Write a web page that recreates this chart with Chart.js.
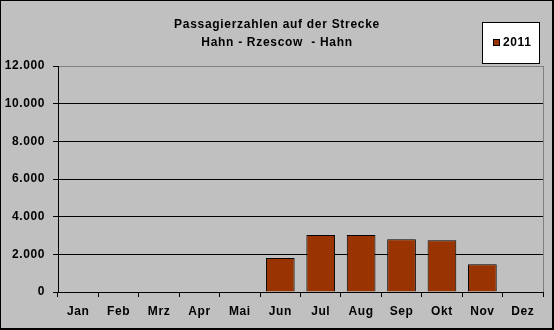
<!DOCTYPE html>
<html>
<head>
<meta charset="utf-8">
<script src="https://cdn.jsdelivr.net/npm/chart.js@4.4.1/dist/chart.umd.min.js"></script>
<style>
  html, body { margin: 0; padding: 0; background: #c0c0c0; }
  canvas { display: block; }
</style>
</head>
<body>
<canvas id="chart" width="554" height="330"></canvas>
<script>
// data
const months = ['Jan', 'Feb', 'Mrz', 'Apr', 'Mai', 'Jun', 'Jul', 'Aug', 'Sep', 'Okt', 'Nov', 'Dez'];
const passengers2011 = [null, null, null, null, null, 1800, 3030, 3030, 2800, 2750, 1480, null];
const seriesLabel = '2011';
const titleLines = ['Passagierzahlen auf der Strecke', 'Hahn - Rzescow  - Hahn'];
const yMax = 12000;
const yStep = 2000;

const barColor = '#993300';
const fontFamily = '"Liberation Sans", Arial, sans-serif';

// german thousands separator
function fmt(v) {
    return String(v).replace(/\B(?=(\d{3})+(?!\d))/g, '.');
}

// grey sheet, black frame with a heavier right/bottom edge
const framePlugin = {
    id: 'frame',
    beforeDraw(chart) {
        const ctx = chart.ctx;
        ctx.fillStyle = '#c0c0c0';
        ctx.fillRect(0, 0, chart.width, chart.height);
        // excel text is drawn a bit wider
        ctx.letterSpacing = '0.6px';
    },
    afterDraw(chart) {
        const ctx = chart.ctx;
        const w = chart.width, h = chart.height;
        ctx.save();
        ctx.fillStyle = '#000';
        ctx.fillRect(0, 0, w, 1);
        ctx.fillRect(0, 0, 1, h);
        ctx.fillRect(w - 2, 0, 2, h);
        ctx.fillRect(0, h - 2, w, 2);
        ctx.restore();
    }
};

// right edge of the plot area (grey like the top one)
const plotEdgePlugin = {
    id: 'plotEdge',
    beforeDatasetsDraw(chart) {
        const a = chart.chartArea;
        const ctx = chart.ctx;
        ctx.save();
        ctx.strokeStyle = '#808080';
        ctx.lineWidth = 1;
        ctx.beginPath();
        ctx.moveTo(Math.round(a.right) + 0.5, a.top);
        ctx.lineTo(Math.round(a.right) + 0.5, a.bottom);
        ctx.stroke();
        ctx.restore();
    }
};

// two line title
const titlePlugin = {
    id: 'twoLineTitle',
    afterDraw(chart) {
        const ctx = chart.ctx;
        ctx.save();
        ctx.font = 'bold 12px ' + fontFamily;
        ctx.letterSpacing = '0.7px';
        ctx.fillStyle = '#000';
        ctx.textAlign = 'center';
        ctx.textBaseline = 'middle';
        titleLines.forEach((line, i) => {
            ctx.fillText(line, 277, 25 + i * 18);
        });
        ctx.restore();
    }
};

// boxed legend at the top right
const legendBoxPlugin = {
    id: 'legendBox',
    afterDraw(chart) {
        const ctx = chart.ctx;
        const ds = chart.data.datasets[0];
        ctx.save();
        ctx.fillStyle = '#fff';
        ctx.fillRect(482, 22, 58, 42);
        ctx.strokeStyle = '#000';
        ctx.lineWidth = 1;
        ctx.strokeRect(482.5, 22.5, 57, 41);
        ctx.fillStyle = ds.backgroundColor;
        ctx.fillRect(493, 39, 7, 7);
        ctx.strokeRect(493.5, 39.5, 6, 6);
        ctx.fillStyle = '#000';
        ctx.font = 'bold 12px ' + fontFamily;
        ctx.letterSpacing = '0.6px';
        ctx.textAlign = 'left';
        ctx.textBaseline = 'middle';
        ctx.fillText(ds.label, 503, 43);
        ctx.restore();
    }
};

const chart = new Chart(document.getElementById('chart'), {
    type: 'bar',
    data: {
        labels: months,
        datasets: [{
            label: seriesLabel,
            data: passengers2011,
            backgroundColor: barColor,
            borderColor: '#000',
            borderWidth: 1,
            barPercentage: 0.71,
            categoryPercentage: 1
        }]
    },
    options: {
        responsive: false,
        animation: false,
        layout: { padding: { top: 66, right: 11, left: 0, bottom: 0 } },
        plugins: {
            legend: { display: false },
            title: { display: false },
            tooltip: { enabled: false }
        },
        scales: {
            x: {
                afterFit(scale) { scale.height = 38; },
                grid: {
                    offset: true,
                    drawOnChartArea: false,
                    drawTicks: true,
                    tickLength: 5,
                    color: '#000'
                },
                border: { display: true, color: '#000', width: 1 },
                ticks: {
                    color: '#000',
                    padding: 7,
                    maxRotation: 0,
                    font: { family: fontFamily, size: 12, weight: 'bold' }
                }
            },
            y: {
                min: 0,
                max: yMax,
                afterFit(scale) { scale.width = 58; },
                grid: {
                    color: (c) => (c.tick && c.tick.value === yMax) ? '#808080' : '#000',
                    tickColor: '#000',
                    tickLength: 5,
                    lineWidth: 1
                },
                border: { display: true, color: '#000', width: 1 },
                ticks: {
                    stepSize: yStep,
                    color: '#000',
                    padding: 8,
                    font: { family: fontFamily, size: 12, weight: 'bold' },
                    callback: (v) => fmt(v)
                }
            }
        }
    },
    plugins: [framePlugin, plotEdgePlugin, titlePlugin, legendBoxPlugin]
});
</script>
</body>
</html>
